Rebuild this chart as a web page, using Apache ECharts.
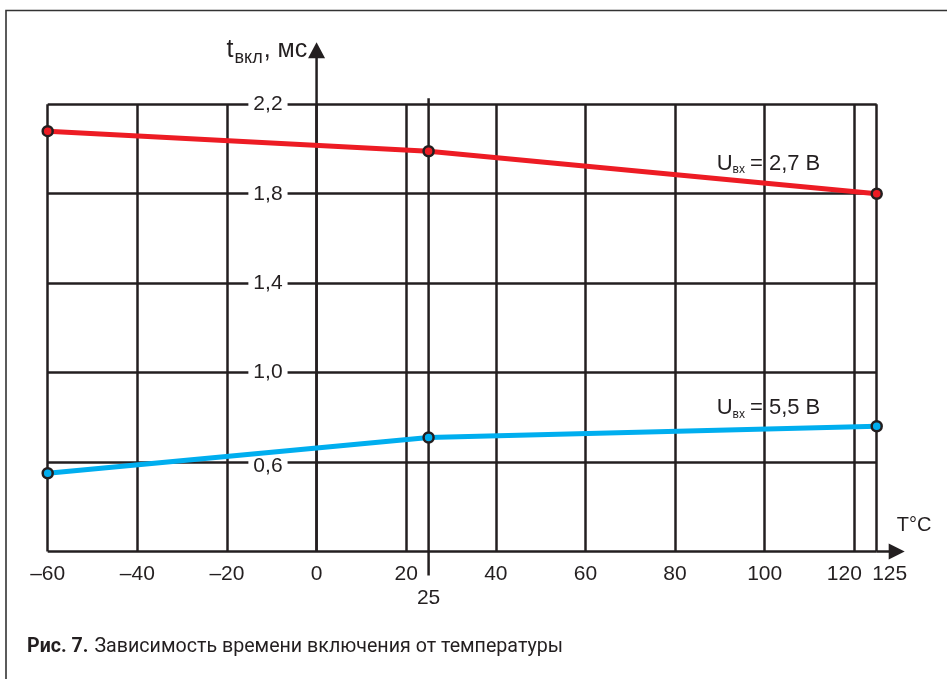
<!DOCTYPE html>
<html>
<head>
<meta charset="utf-8">
<script src="https://cdn.jsdelivr.net/npm/echarts@6/dist/echarts.min.js"></script>
<style>
  html, body { margin: 0; padding: 0; background: #fff; }
  #c { width: 947px; height: 679px; }
</style>
</head>
<body>
<div id="c"></div>
<script>
// Switch-on time vs. temperature for two input voltages
const temps = [-60, 25, 125];            // °C
const tOnLow = [2.08, 1.99, 1.80];       // ms, U_вх = 2,7 В
const tOnHigh = [0.55, 0.71, 0.76];      // ms, U_вх = 5,5 В
const markTemp = 25;                     // extra reference line
const xRange = [-60, 125];
const yRange = [0.2, 2.2];
const yStep = 0.4;
const xStep = 20;
const xLabelValues = [-60, -40, -20, 0, 20, 40, 60, 80, 100, 120, 125];
const yLabelValues = [0.6, 1.0, 1.4, 1.8, 2.2];

const INK = '#231f20';
const RED = '#ed1c24';
const BLUE = '#00aeef';
const FONT = '"Liberation Sans", Arial, Helvetica, sans-serif';
const CAP_FONT = 'Roboto, "Liberation Sans", sans-serif';

const fmtX = v => (v < 0 ? '\u2013' + Math.abs(v) : String(v));
const fmtY = v => (+v).toFixed(1).replace('.', ',');
// small horizontal nudges so crowded labels do not collide
const xLabelShift = { 120: -10, 125: 13 };
const yLabelDrop = { 0.6: 4 };

const chart = echarts.init(document.getElementById('c'), null, { renderer: 'canvas' });

const lineSeries = (vals, color) => ({
  type: 'line',
  data: temps.map((t, i) => [t, vals[i]]),
  clip: false,
  symbol: 'circle',
  symbolSize: 10,
  lineStyle: { color: color, width: 5 },
  itemStyle: { color: color, borderColor: INK, borderWidth: 2.5 },
  z: 5
});

chart.setOption({
  animation: false,
  backgroundColor: '#fff',
  grid: { left: 47.7, right: 70.3, top: 104.3, bottom: 127.5, containLabel: false, outerBoundsMode: 'none' },
  xAxis: {
    type: 'value', min: xRange[0], max: xRange[1], interval: xStep,
    axisLine: { show: false }, axisTick: { show: false }, axisLabel: { show: false },
    splitLine: { show: true, lineStyle: { color: INK, width: 2.5 } }
  },
  yAxis: {
    type: 'value', min: yRange[0], max: yRange[1], interval: yStep,
    axisLine: { show: false }, axisTick: { show: false }, axisLabel: { show: false },
    splitLine: { show: true, lineStyle: { color: INK, width: 2.5 } }
  },
  series: [lineSeries(tOnLow, RED), lineSeries(tOnHigh, BLUE)]
});

// text helpers
const mctx = document.createElement('canvas').getContext('2d');
function textWidth(str, size, weight, family) {
  mctx.font = (weight || 'normal') + ' ' + size + 'px ' + (family || FONT);
  return mctx.measureText(str).width;
}
// a run of text pieces sharing a baseline; each piece may drop below it (subscripts)
function textRun(x, baseline, parts, family) {
  const out = [];
  let cx = x;
  parts.forEach(p => {
    const fam = family || FONT;
    out.push({
      type: 'text', x: cx, y: baseline + (p.drop || 0) - 0.31 * p.size, z: 20,
      style: {
        text: p.text, fill: INK, font: (p.weight || 'normal') + ' ' + p.size + 'px ' + fam,
        textAlign: 'left', textVerticalAlign: 'middle'
      }
    });
    cx += textWidth(p.text, p.size, p.weight, fam) + (p.gap || 0);
  });
  return { els: out, width: cx - x };
}

function place() {
  const px = (x, y) => chart.convertToPixel({ gridIndex: 0 }, [x, y]);
  const top0 = px(0, yRange[1]);
  const bot0 = px(0, yRange[0]);
  const xEnd = px(xRange[1], yRange[0]);
  const mTop = px(markTemp, yRange[1]);
  const mBot = px(markTemp, yRange[0]);
  const els = [];

  // open frame round the figure
  els.push({ type: 'polyline', shape: { points: [[6, 679], [6, 10.5], [947, 10.5]] },
    style: { stroke: '#333', lineWidth: 1.6, fill: null }, z: 1 });

  // y axis through 0 °C, extended upward with an arrow
  els.push({ type: 'line', shape: { x1: bot0[0], y1: bot0[1], x2: top0[0], y2: top0[1] - 48 },
    style: { stroke: INK, lineWidth: 2.5 }, z: 1 });
  els.push({ type: 'polygon', shape: { points: [[top0[0] - 8.5, top0[1] - 46], [top0[0], top0[1] - 62], [top0[0] + 8.5, top0[1] - 46]] },
    style: { fill: INK }, z: 1 });

  // y tick labels sitting on the gridlines, left of the axis (below the curves)
  yLabelValues.forEach(v => {
    const p = px(0, v);
    els.push({ type: 'text', x: p[0] - 29, y: p[1] + (yLabelDrop[v] || 0), z: 1,
      style: { text: fmtY(v), fill: INK, font: '21px ' + FONT, textAlign: 'right', textVerticalAlign: 'middle',
        backgroundColor: '#fff', padding: [1, 5] } });
  });

  // x tick labels
  xLabelValues.forEach(v => {
    const p = px(v, yRange[0]);
    els.push({ type: 'text', x: p[0] + (xLabelShift[v] || 0), y: p[1] + 23, z: 20,
      style: { text: fmtX(v), fill: INK, font: '21px ' + FONT, textAlign: 'center', textVerticalAlign: 'middle' } });
  });

  // x axis extension with arrow
  els.push({ type: 'line', shape: { x1: xEnd[0], y1: xEnd[1], x2: xEnd[0] + 14, y2: xEnd[1] },
    style: { stroke: INK, lineWidth: 2.5 }, z: 1 });
  els.push({ type: 'polygon', shape: { points: [[xEnd[0] + 12, xEnd[1] - 8], [xEnd[0] + 28, xEnd[1]], [xEnd[0] + 12, xEnd[1] + 8]] },
    style: { fill: INK }, z: 1 });

  // 25 °C reference line and its label
  els.push({ type: 'line', shape: { x1: mTop[0], y1: mTop[1] - 6, x2: mBot[0], y2: mBot[1] + 24 },
    style: { stroke: INK, lineWidth: 2.5 }, z: 1 });
  els.push({ type: 'text', x: mBot[0], y: mBot[1] + 47, z: 20,
    style: { text: String(markTemp), fill: INK, font: '21px ' + FONT, textAlign: 'center', textVerticalAlign: 'middle' } });

  // axis names
  els.push({ type: 'text', x: xEnd[0] + 20, y: xEnd[1] - 26, z: 20,
    style: { text: 'T°C', fill: INK, font: '20px ' + FONT, textAlign: 'left', textVerticalAlign: 'middle' } });
  const yName = textRun(top0[0] - 90, top0[1] - 46, [
    { text: 't', size: 25, gap: 1 }, { text: 'вкл', size: 18, drop: 5, gap: 1 }, { text: ', мс', size: 25 }
  ]);
  els.push(...yName.els);

  // curve labels
  const lbl1 = px(100, 1.8);
  els.push(...textRun(lbl1[0] - 48, lbl1[1] - 23, [
    { text: 'U', size: 22 }, { text: 'вх', size: 12, drop: 3, gap: 5 }, { text: '= 2,7 В', size: 22 }
  ]).els);
  const lbl2 = px(100, 0.6);
  els.push(...textRun(lbl2[0] - 48, lbl2[1] - 47, [
    { text: 'U', size: 22 }, { text: 'вх', size: 12, drop: 3, gap: 5 }, { text: '= 5,5 В', size: 22 }
  ]).els);

  // figure caption, condensed to its measured width
  const cap = textRun(0, 0, [
    { text: 'Рис. 7.', size: 20, weight: 'bold', gap: 6 },
    { text: 'Зависимость времени включения от температуры', size: 20 }
  ], CAP_FONT);
  els.push({ type: 'group', x: 27, y: 653, scaleX: 536 / cap.width, children: cap.els });

  chart.setOption({ graphic: { elements: els } });
}
place();
</script>
</body>
</html>
